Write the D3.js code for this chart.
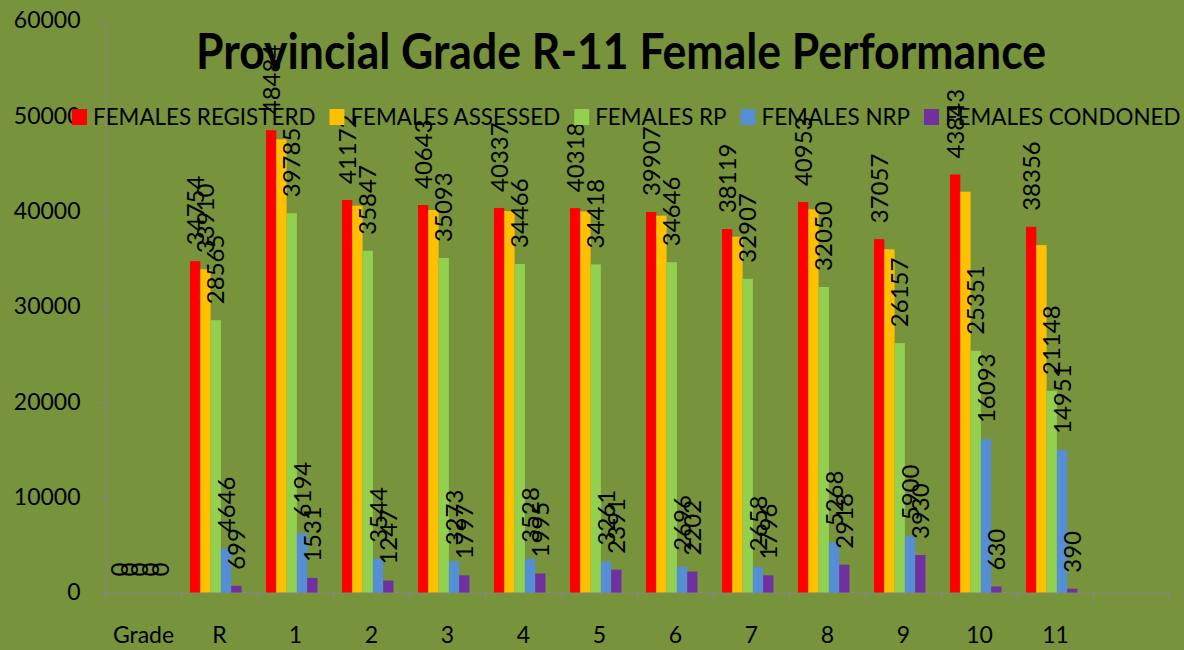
<!DOCTYPE html>
<html>
<head>
<meta charset="utf-8">
<script src="https://cdn.jsdelivr.net/npm/d3@7"></script>
<style>
  html, body { margin: 0; padding: 0; background: #77933C; }
  svg { display: block; }
  text { font-family: Lato, "Open Sans", sans-serif; fill: #000; }
</style>
</head>
<body>
<svg id="chart" width="1184" height="650"></svg>
<script>
// ---- data ----
const categories = ["Grade", "R", "1", "2", "3", "4", "5", "6", "7", "8", "9", "10", "11", ""];
const registered = [0, 34754, 48484, 41172, 40643, 40337, 40318, 39907, 38119, 40953, 37057, 43843, 38356, null];
const assessed   = [0, 33910, 47540, 40570, 40120, 40010, 39970, 39530, 37320, 40200, 36000, 42040, 36440, null];
const rp         = [0, 28565, 39785, 35847, 35093, 34466, 34418, 34646, 32907, 32050, 26157, 25351, 21148, null];
const nrp        = [0, 4646, 6194, 3544, 3273, 3528, 3261, 2696, 2658, 5268, 5900, 16093, 14951, null];
const condoned   = [0, 699, 1531, 1247, 1797, 1995, 2391, 2202, 1796, 2918, 3930, 630, 390, null];
const seriesNames = ["FEMALES REGISTERD", "FEMALES ASSESSED", "FEMALES RP", "FEMALES NRP", "FEMALES CONDONED"];
const seriesColors = ["#FF0000", "#FFC000", "#92D050", "#558ED5", "#7030A0"];
const assessedLabelled = ["Grade", "R"];
const yTicks = [0, 10000, 20000, 30000, 40000, 50000, 60000];
const titleText = "Provincial Grade R-11 Female Performance";

const seriesValues = [registered, assessed, rp, nrp, condoned];

// ---- layout ----
const svg = d3.select("#chart");
svg.append("rect").attr("width", 1184).attr("height", 650).attr("fill", "#77933C");

const x = d3.scaleBand().domain(categories).range([105.5, 1169.5]).padding(0);
const y = d3.scaleLinear().domain([0, 60000]).range([592.5, 20.5]);
const sub = d3.scaleBand().domain(d3.range(seriesNames.length))
  .range([0.112, 0.112 + 0.1355 * seriesNames.length]); // fraction of band

const bw = x.bandwidth();
const barX = (cat, s) => x(cat) + sub(s) * bw;
const barW = sub.bandwidth() * bw;

// y axis
const yAxis = svg.append("g").attr("transform", "translate(105.5,0)")
  .call(d3.axisLeft(y).tickValues(yTicks).tickSize(7).tickSizeOuter(0).tickPadding(18).tickFormat(d3.format("d")));
yAxis.select(".domain").attr("stroke", "#868686");
yAxis.selectAll(".tick line").attr("stroke", "#868686");
yAxis.selectAll(".tick text").attr("font-size", 23).attr("font-family", "Lato, 'Open Sans', sans-serif").attr("fill", "#000");

// x axis
const xAxis = svg.append("g").attr("transform", "translate(0,592.5)")
  .call(d3.axisBottom(x).tickSize(0).tickSizeOuter(0).tickPadding(34));
xAxis.select(".domain").attr("stroke", "#868686");
xAxis.selectAll(".tick text").attr("font-size", 23).attr("font-family", "Lato, 'Open Sans', sans-serif").attr("fill", "#000");
const boundaries = categories.map(c => x(c)).concat([x.range()[1]]);
svg.append("g").selectAll("line").data(boundaries).join("line")
  .attr("x1", d => d).attr("x2", d => d)
  .attr("y1", 592.5).attr("y2", 601.5)
  .attr("stroke", "#868686");

// bars
const barData = [];
seriesValues.forEach((vals, s) => {
  vals.forEach((v, i) => {
    if (v !== null) barData.push({ s, cat: categories[i], v });
  });
});
svg.append("g").selectAll("rect").data(barData.filter(d => d.v > 0)).join("rect")
  .attr("x", d => barX(d.cat, d.s))
  .attr("width", barW)
  .attr("y", d => y(d.v))
  .attr("height", d => y(0) - y(d.v))
  .attr("fill", d => seriesColors[d.s]);

// data labels
const labelData = barData.filter(d => d.s !== 1 || assessedLabelled.includes(d.cat));
svg.append("g").selectAll("text").data(labelData).join("text")
  .attr("transform", d => `translate(${barX(d.cat, d.s) + barW / 2},${y(d.v) - 16}) rotate(-90)`)
  .attr("dy", "0.36em")
  .attr("text-anchor", "start")
  .attr("font-size", 24)
  .text(d => d.v);

// title
svg.append("text")
  .attr("x", 621).attr("y", 69)
  .attr("text-anchor", "middle")
  .attr("font-size", 49).attr("font-weight", 700)
  .attr("textLength", 850).attr("lengthAdjust", "spacingAndGlyphs")
  .text(titleText);

// legend
const legend = svg.append("g");
let lx = 72;
seriesNames.forEach((name, s) => {
  legend.append("rect").attr("x", lx).attr("y", 109).attr("width", 15).attr("height", 16).attr("fill", seriesColors[s]);
  const t = legend.append("text").attr("x", lx + 21).attr("y", 125).attr("font-size", 22.4).text(name);
  lx += 21 + t.node().getComputedTextLength() + 14;
});
</script>
</body>
</html>
